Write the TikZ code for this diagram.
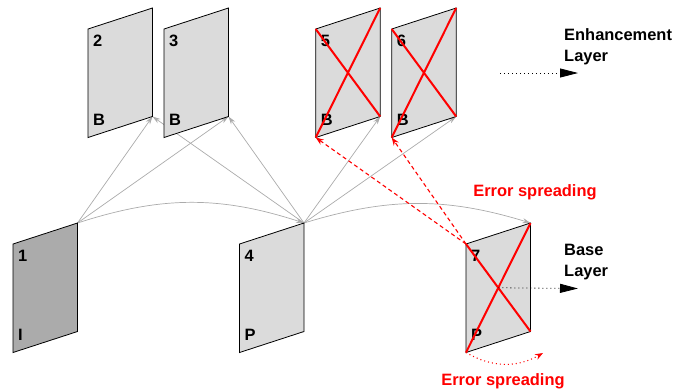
\documentclass[tikz,border=0pt]{standalone}
\usepackage{fontspec}
\setmainfont{Liberation Sans}
\usetikzlibrary{arrows.meta, calc}
\tikzstyle{picbox} = [draw, line width=0.8bp]
\tikzstyle{lbl} = [inner sep=0, anchor=base west, font=\fontsize{16.5}{20}\selectfont\bfseries]
\tikzstyle{txt} = [inner sep=0, align=left, font=\fontsize{16.5}{21.5}\selectfont\bfseries]
\tikzstyle{ref} = [draw=black!33, line width=0.7bp, -{Stealth[length=8bp, width=5bp]}]
\tikzstyle{err} = [draw=red, line width=1.1bp, dash pattern=on 4bp off 3bp, -{Stealth[length=8bp, width=6bp]}]
\tikzstyle{errdot} = [draw=red, line width=1.1bp, dash pattern=on 1bp off 3bp, -{Stealth[length=8bp, width=6bp]}]
\tikzstyle{xline} = [draw=red, line width=2bp]
\tikzstyle{layerarrow} = [draw, line width=0.8bp, dash pattern=on 1bp off 3bp, -{Triangle[length=18bp, width=9bp]}]

\begin{document}
\begin{tikzpicture}[x=1bp, y=-1bp]
	\useasboundingbox (0,0) rectangle (697,390);
	
	% corners of the frames
	\foreach \n/\x/\y in {1/13/223, 2/88/8, 3/164/8, 4/239.5/223, 5/315.7/8, 6/391.7/8, 7/466/223} {
		\coordinate (f\n-tl) at (\x, \y+21);
		\coordinate (f\n-tr) at (\x+64.5, \y);
		\coordinate (f\n-br) at (\x+64.5, \y+108.5);
		\coordinate (f\n-bl) at (\x, \y+129.5);
		\coordinate (f\n-c) at (\x+32.25, \y+64.75);
	}
	
	\path [ref] (f1-tr) -- (f2-br);
	\path [ref] (f1-tr) -- (f3-br);
	\path [ref] (f4-tr) -- (f2-br);
	\path [ref] (f4-tr) -- (f3-br);
	\path [ref] (f4-tr) -- (f5-br);
	\path [ref] (f4-tr) -- (f6-br);
	\path [ref] (f1-tr) to [bend left=18] (f4-tr);
	\path [ref] (f4-tr) to [bend left=17] (f7-tr);
	
	\foreach \n/\t/\c in {1/I/black!33, 2/B/black!14, 3/B/black!14, 4/P/black!14, 5/B/black!14, 6/B/black!14, 7/P/black!14} {
		\path [picbox, fill=\c] (f\n-tl) -- (f\n-tr) -- (f\n-br) -- (f\n-bl) -- cycle;
		\node [lbl] (num\n) at ($(f\n-tl)+(5,17.7)$) {\n};
		\node [lbl] (type\n) at ($(f\n-bl)+(5,-12)$) {\t};
	}
	
	\foreach \n in {5,6,7}
		\path [xline] (f\n-tl) -- (f\n-br) (f\n-bl) -- (f\n-tr);
	
	\path [err] (f7-tl) -- (f5-bl);
	\path [err] (f7-tl) -- (f6-bl);
	\coordinate (spread) at (543,353);
	\path [errdot] (f7-bl) to [bend right=30] (spread);
	
	\node [txt, anchor=north west] (enh) at (564,28) {Enhancement\\Layer};
	\coordinate (enhs) at (500,73);
	\coordinate (enhe) at (578,73);
	\path [layerarrow] (enhs) -- (enhe);
	
	\node [txt, anchor=north west] (base) at (564,244) {Base\\Layer};
	\coordinate (basee) at (578,288.5);
	\path [layerarrow] (f7-c) -- (basee);
	
	\node [txt, red] (err1) at (535,192) {Error spreading};
	\node [txt, red] (err2) at (503,381) {Error spreading};
\end{tikzpicture}
\end{document}
